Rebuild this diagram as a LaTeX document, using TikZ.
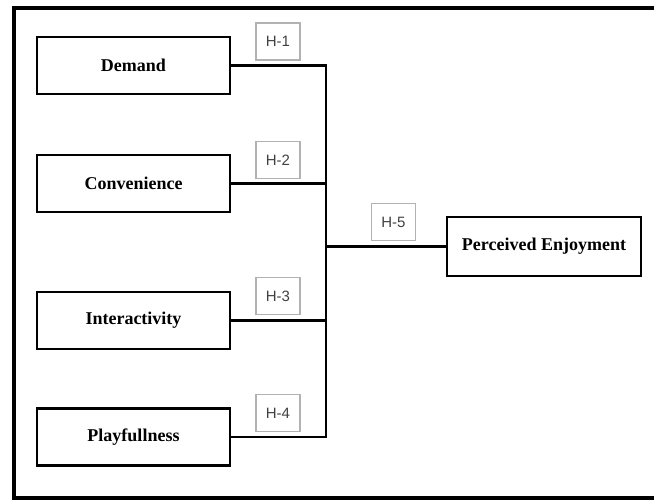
\documentclass[tikz,border=0pt]{standalone}
\usepackage{fontspec}
\setmainfont{Liberation Serif}
\newfontfamily\hypfont{Liberation Sans}
\begin{document}
\begin{tikzpicture}[x=1pt, y=-1pt,
  factor box/.style={draw, line width=2.6pt, minimum width=193pt, minimum height=57pt,
    inner sep=0pt, font=\bfseries\fontsize{18}{20}\selectfont},
  hypothesis box/.style={draw=black!30, line width=1.3pt, minimum width=44pt, minimum height=37pt,
    inner sep=0pt, text=black!75, font=\hypfont\fontsize{15}{17}\selectfont},
  link/.style={line width=2.6pt}]

\useasboundingbox (0,0) rectangle (654,502);

% outer frame
\draw [line width=4pt] (656,8) -- (14,8) -- (14,498) -- (656,498);

% define factor boxes
\foreach \m/\l/\y in {demand/Demand/65.5, convenience/Convenience/183.5,
    interactivity/Interactivity/320.5, playfullness/Playfullness/437}
  \node [factor box] (\m) at (133.5,\y) {\l};

% define outcome box
\node [factor box, minimum width=194pt, minimum height=59pt] (enjoyment) at (544,246.5) {Perceived Enjoyment};

% define junction points
\foreach \m [count=\i] in {demand,convenience,interactivity,playfullness}
  \coordinate (join-\i) at (326,0 |- \m.east);
\coordinate (join-5) at (326,0 |- enjoyment.west);

% connect factors to the junction line
\foreach \m [count=\i] in {demand,convenience,interactivity,playfullness}
  \draw [link] (\m.east) -- (join-\i);
\draw [link, line cap=rect] (join-1) -- (join-4);
\draw [link] (join-5) -- (enjoyment.west);

% hypothesis labels
\foreach \l/\y in {1/41.5, 2/160, 3/296, 4/413}
  \node [hypothesis box] (hyp-\l) at (278,\y) {H-\l};
\node [hypothesis box] (hyp-5) at (393.5,222) {H-5};

\end{tikzpicture}
\end{document}
